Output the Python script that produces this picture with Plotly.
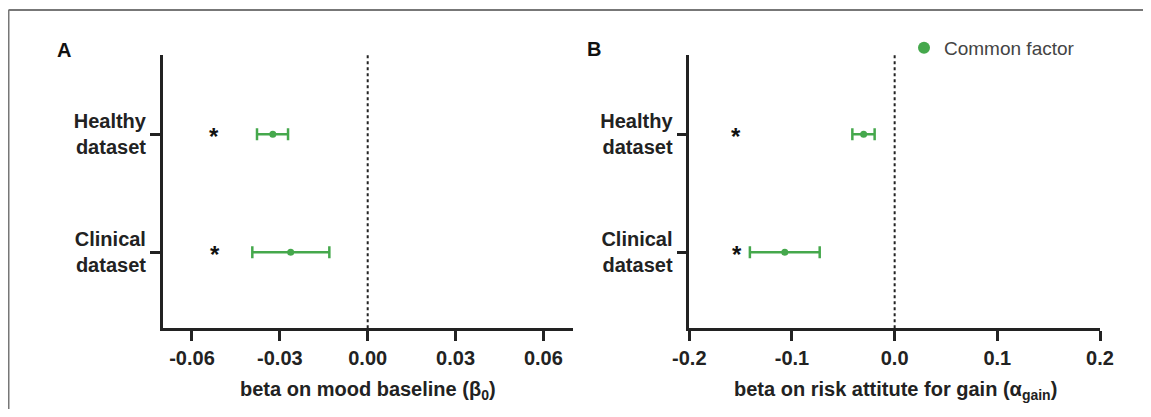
import plotly.graph_objects as go

# ---- data ----
categories = ["Healthy<br>dataset", "Clinical<br>dataset"]
cat_pos = [0, 1]

# Panel A: beta on mood baseline
a_mid = [-0.0324, -0.0263]
a_low = [-0.0378, -0.0394]
a_high = [-0.0272, -0.0131]
a_star_x = [-0.0525, -0.0522]

# Panel B: beta on risk attitude for gain
b_mid = [-0.0302, -0.107]
b_low = [-0.0412, -0.141]
b_high = [-0.0195, -0.073]
b_star_x = [-0.155, -0.1535]

a_ticks = [-0.06, -0.03, 0.0, 0.03, 0.06]
a_ticktext = ["-0.06", "-0.03", "0.00", "0.03", "0.06"]
b_ticks = [-0.2, -0.1, 0.0, 0.1, 0.2]
b_ticktext = ["-0.2", "-0.1", "0.0", "0.1", "0.2"]

GREEN = "#45a84c"
FONT = "Arial, Liberation Sans, sans-serif"
# page has an 8px body margin; figure is sized to fit inside the window
OFF = 8
W, H = 1151 - 2 * OFF, 417 - 2 * OFF


def px(x):
    return (x - OFF) / W


def py(y):
    return 1 - (y - OFF) / H


fig = go.Figure()


def add_panel(mid, low, high, xaxis, yaxis, showlegend):
    fig.add_trace(go.Scatter(
        x=mid, y=cat_pos, mode="markers",
        name="Common factor", showlegend=showlegend,
        marker=dict(color=GREEN, size=7),
        error_x=dict(type="data", symmetric=False,
                     array=[h - m for h, m in zip(high, mid)],
                     arrayminus=[m - l for m, l in zip(mid, low)],
                     color=GREEN, thickness=2.5, width=6),
        xaxis=xaxis, yaxis=yaxis, hoverinfo="x+y",
    ))


add_panel(a_mid, a_low, a_high, "x", "y", True)
add_panel(b_mid, b_low, b_high, "x2", "y2", False)

ydom = [py(328.3), py(55)]
yrange = [1.644, -0.672]

axis_common = dict(
    showline=True, linecolor="#222", linewidth=2.5,
    ticks="outside", ticklen=10, tickwidth=2.5, tickcolor="#222",
    showgrid=False, zeroline=False, automargin=False,
    tickfont=dict(family=FONT, size=20, color="#222", weight="bold"),
)

fig.update_layout(
    width=W, height=H,
    margin=dict(l=0, r=0, t=0, b=0, pad=0),
    paper_bgcolor="white", plot_bgcolor="white",
    xaxis=dict(domain=[px(162.7), px(572.7)], range=[-0.07, 0.07],
               tickvals=a_ticks, ticktext=a_ticktext, anchor="y", **axis_common),
    yaxis=dict(domain=ydom, range=yrange, tickvals=cat_pos, ticktext=categories,
               anchor="x", **axis_common),
    xaxis2=dict(domain=[px(689.3), px(1100)], range=[-0.2, 0.2],
                tickvals=b_ticks, ticktext=b_ticktext, anchor="y2", **axis_common),
    yaxis2=dict(domain=ydom, range=yrange, tickvals=cat_pos, ticktext=categories,
                anchor="x2", **axis_common),
    showlegend=True,
    legend=dict(x=px(904), y=py(29), xanchor="left", yanchor="top",
                bgcolor="rgba(0,0,0,0)",
                font=dict(family=FONT, size=19, color="#444"),
                itemsizing="constant"),
)

# zero reference lines (dotted)
for xr in ["x", "x2"]:
    fig.add_shape(type="line", xref=xr, yref="paper", x0=0, x1=0,
                  y0=ydom[0], y1=ydom[1],
                  line=dict(color="#222", width=2, dash="dot"))

# significance stars
for xr, yr, xs in [("x", "y", a_star_x), ("x2", "y2", b_star_x)]:
    for xv, yv in zip(xs, cat_pos):
        fig.add_annotation(x=xv, y=yv, xref=xr, yref=yr, text="*",
                           showarrow=False, yshift=-2, xanchor="center", yanchor="middle",
                           font=dict(family=FONT, size=24, color="#111", weight="bold"))

# axis titles
fig.add_annotation(x=px(367.7), y=py(390), xref="paper", yref="paper",
                   xanchor="center", yanchor="middle",
                   text="beta on mood baseline (β<sub>0</sub>)", showarrow=False,
                   font=dict(family=FONT, size=20, color="#222", weight="bold"))
fig.add_annotation(x=px(895), y=py(390), xref="paper", yref="paper",
                   xanchor="center", yanchor="middle",
                   text="beta on risk attitute for gain (α<sub>gain</sub>)", showarrow=False,
                   font=dict(family=FONT, size=20, color="#222", weight="bold"))

# panel letters
fig.add_annotation(x=px(64), y=py(50), xref="paper", yref="paper", text="A",
                   xanchor="center", yanchor="middle", showarrow=False,
                   font=dict(family=FONT, size=20, color="#111", weight="bold"))
fig.add_annotation(x=px(594), y=py(49), xref="paper", yref="paper", text="B",
                   xanchor="center", yanchor="middle", showarrow=False,
                   font=dict(family=FONT, size=20, color="#111", weight="bold"))

# outer frame (left and top edges)
fig.add_shape(type="line", xref="paper", yref="paper", x0=px(8.5), x1=px(8.5),
              y0=0, y1=py(10), line=dict(color="#777", width=2))
fig.add_shape(type="line", xref="paper", yref="paper", x0=px(8.5), x1=1,
              y0=py(10), y1=py(10), line=dict(color="#777", width=2))

fig.write_html("out.html")
